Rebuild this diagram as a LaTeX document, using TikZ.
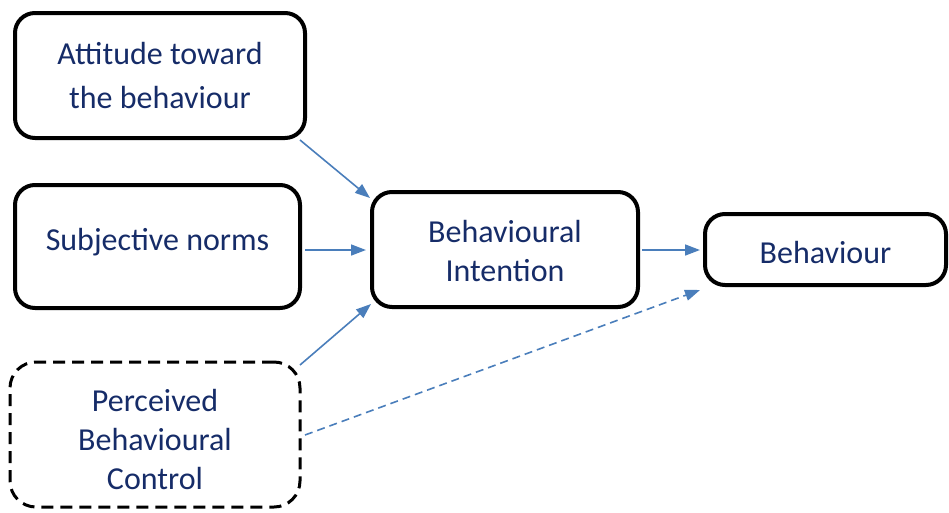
\documentclass[tikz,border=0pt]{standalone}
\usepackage{fontspec}
\setmainfont{Carlito}
\usetikzlibrary{arrows.meta,calc}
\definecolor{txt}{RGB}{22,44,104}
\definecolor{arr}{RGB}{74,126,187}
\newcommand{\shiftup}[2]{\raisebox{#1}[\height][\depth]{#2}}
\begin{document}
\begin{tikzpicture}[x=1pt,y=-1pt,
  box/.style={draw=black,line width=4pt,rounded corners=20pt,inner sep=0pt,outer sep=0pt,
    text=txt,align=center,font=\fontsize{32}{39}\selectfont},
  conn/.style={draw=arr,line width=1.6pt,-{Triangle[length=15pt,width=11pt]}},
  dconn/.style={conn,dash pattern=on 8pt off 5pt}]
\useasboundingbox (0,0) rectangle (949,512);
\node[box,font=\fontsize{32}{44}\selectfont,minimum width=290pt,minimum height=125pt] (A) at (160,75.5) {Attitude toward\\the behaviour};
\node[box,minimum width=285pt,minimum height=123pt] (S) at (157.5,246.5) {\shiftup{4pt}{Subjective norms}};
\node[box,line width=3pt,dash pattern=on 12pt off 7pt,rounded corners=26pt,minimum width=290pt,minimum height=145pt] (P) at (155,434.5) {\shiftup{-8pt}{\begin{tabular}{@{}c@{}}Perceived\\Behavioural\\Control\end{tabular}}};
\node[box,minimum width=266pt,minimum height=115pt] (BI) at (505,249.5) {\shiftup{-4.5pt}{\begin{tabular}{@{}c@{}}Behavioural\\Intention\end{tabular}}};
\node[box,minimum width=241pt,minimum height=71pt] (B) at (825.5,249.5) {\shiftup{-3pt}{Behaviour}};
\draw[conn] ($(A.south east)+(-5,2)$) -- ($(BI.north west)+(-2,6)$);
\draw[conn] ($(S.east)+(5,3.5)$) -- ($(BI.west)+(-6,0.5)$);
\draw[conn] ($(P.north east)+(0,3)$) -- ($(BI.south west)+(-1,-3)$);
\draw[conn] ($(BI.east)+(4,0.5)$) -- ($(B.west)+(-5,0.5)$);
\draw[dconn] ($(P.east)+(5,0.5)$) -- ($(B.south west)+(-5,5)$);
\end{tikzpicture}
\end{document}
